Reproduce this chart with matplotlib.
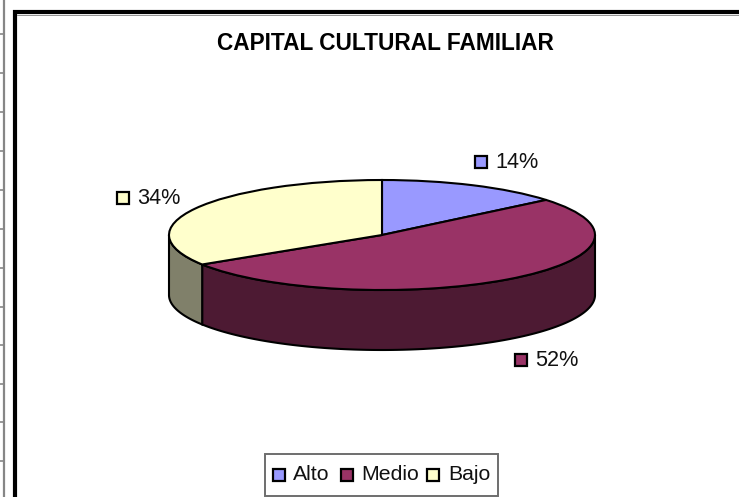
import numpy as np
import matplotlib
matplotlib.use('Agg')
import matplotlib.pyplot as plt
from matplotlib.patches import Rectangle

plt.rcParams['font.family'] = ['Liberation Sans', 'DejaVu Sans']

titulo = 'CAPITAL CULTURAL FAMILIAR'
categorias = ['Alto', 'Medio', 'Bajo']
valores = [14, 52, 34]
etiquetas = ['14%', '52%', '34%']
colores = ['#9999FF', '#993366', '#FFFFCC']
lados = ['#4D4D80', '#4D1A33', '#80806A']
filas_y = [34, 73, 112, 151, 190, 229, 268, 307, 345, 384, 422, 461]

W, H = 739, 497
cx, cy, rx, ry, prof = 382, 235, 213, 55, 60
lw_pie = 1.5

fig = plt.figure(figsize=(W / 100, H / 100), dpi=100)

# capa en pixeles para marco, textos y leyenda
bg = fig.add_axes([0, 0, 1, 1])
bg.set_xlim(0, W)
bg.set_ylim(H, 0)
bg.axis('off')

# restos de la hoja de calculo a la izquierda
bg.plot([4, 4], [0, H], color='#868686', lw=1.6, solid_capstyle='butt')
for y in filas_y:
    bg.plot([0, 4], [y, y], color='#868686', lw=1.2, solid_capstyle='butt')

# marco negro del grafico
bg.plot([15, 15, W], [H, 12, 12], color='black', lw=3.0, solid_joinstyle='miter')
bg.plot([17, W], [14.5, 14.5], color='#808080', lw=0.6)

bg.text(385.5, 43, titulo, ha='center', va='center', fontsize=16.3, fontweight='bold', color='black')

# tarta: ejes del tamano de la elipse, radio 1
ax = fig.add_axes([(cx - rx) / W, 1 - (cy + ry) / H, 2 * rx / W, 2 * ry / H])
ax.axis('off')
ax.pie(valores, colors=colores, startangle=90, counterclock=False, radius=1,
       wedgeprops={'edgecolor': 'black', 'linewidth': lw_pie, 'zorder': 5})
ax.set_aspect('auto')
ax.set_xlim(-1, 1)
ax.set_ylim(-1, 1)

# pared lateral, solo la parte delantera de cada sector
d = prof / ry
acum = np.cumsum([0] + valores) / sum(valores) * 2 * np.pi
for i in range(len(valores)):
    a0, a1 = max(acum[i], np.pi / 2), min(acum[i + 1], 3 * np.pi / 2)
    if a1 <= a0:
        continue
    t = np.linspace(a0, a1, 200)
    x = np.sin(t)
    y = np.cos(t)
    ax.fill(np.r_[x, x[::-1]], np.r_[y, y[::-1] - d], facecolor=lados[i],
            edgecolor='black', linewidth=lw_pie, clip_on=False, zorder=1)
for w in ax.patches[:len(valores)]:
    w.set_clip_on(False)

# etiquetas de datos con su cuadrito
pos_etq = [(475, 162), (515, 360), (117, 198)]
for (px, py), txt, col in zip(pos_etq, etiquetas, colores):
    bg.add_patch(Rectangle((px, py - 6), 12, 12, facecolor=col, edgecolor='black', lw=1.6))
    bg.text(px + 20, py + 1, txt, ha='left', va='center', fontsize=15.6, color='#111111')

# leyenda
bg.add_patch(Rectangle((265, 454), 233, 41.5, facecolor='white', edgecolor='#6e6e6e', lw=1.4, zorder=3))
pos_ley = [(273, 293), (341, 361), (427, 448)]
for (px, tx), nom, col in zip(pos_ley, categorias, colores):
    bg.add_patch(Rectangle((px, 468.5), 12, 12, facecolor=col, edgecolor='black', lw=1.6, zorder=4))
    bg.text(tx, 474, nom, ha='left', va='center', fontsize=15.3, color='#111111', zorder=4)

fig.savefig('out.png', dpi=100)
